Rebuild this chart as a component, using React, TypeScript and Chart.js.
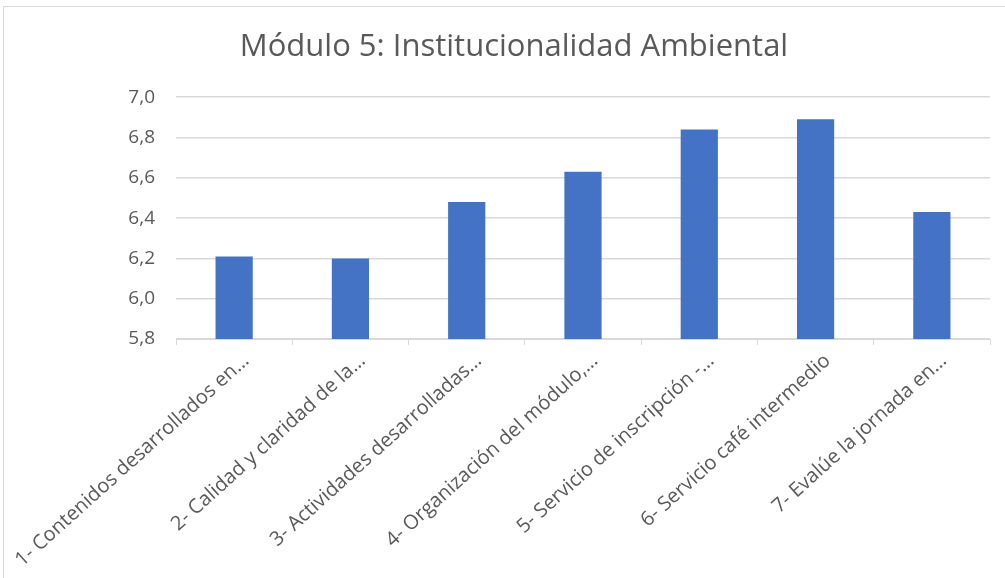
import React, { useEffect, useRef } from "react";
import { Chart, registerables } from "chart.js";

Chart.register(...registerables);

const chartTitle = "Módulo 5: Institucionalidad Ambiental";
const categories = [
  "1- Contenidos desarrollados en…",
  "2- Calidad y claridad de la…",
  "3- Actividades desarrolladas…",
  "4- Organización del módulo,…",
  "5- Servicio de inscripción -…",
  "6- Servicio café intermedio",
  "7- Evalúe la jornada en…",
];
const scores = [6.21, 6.2, 6.48, 6.63, 6.84, 6.89, 6.43];
const yMin = 5.8;
const yMax = 7.0;
const yStep = 0.2;

const FONT = "'Open Sans', 'Noto Sans', sans-serif";
const TEXT = "#595959";
const GRID = "#d9d9d9";

export default function App() {
  const ref = useRef<HTMLCanvasElement | null>(null);

  useEffect(() => {
    document.body.style.margin = "0";
    const ctx = ref.current;
    if (!ctx) return;
    const chart = new Chart(ctx, {
      type: "bar",
      data: {
        labels: categories,
        datasets: [
          {
            data: scores,
            backgroundColor: "#4472C4",
            borderWidth: 0,
            categoryPercentage: 1,
            barPercentage: 0.32,
          },
        ],
      },
      options: {
        animation: false,
        responsive: false,
        maintainAspectRatio: false,
        layout: { padding: { left: 38, right: 15, top: 8, bottom: 0 } },
        plugins: {
          legend: { display: false },
          tooltip: { enabled: false },
          title: {
            display: true,
            text: chartTitle,
            color: TEXT,
            font: { family: FONT, size: 31, weight: "normal" },
            padding: { top: 21, bottom: 31 },
          },
        },
        scales: {
          x: {
            grid: {
              display: true,
              drawOnChartArea: false,
              drawTicks: true,
              tickLength: 6,
              color: GRID,
              offset: true,
            },
            border: { display: true, color: GRID },
            ticks: {
              color: TEXT,
              font: { family: FONT, size: 20 },
              minRotation: 42,
              maxRotation: 42,
              autoSkip: false,
              padding: 4,
              labelOffset: 12,
            },
            afterFit: (s: any) => {
              s.height = 239;
              s.paddingLeft = 0;
              s.paddingRight = 0;
            },
          },
          y: {
            min: yMin,
            max: yMax,
            grid: { color: GRID, lineWidth: 1.5, drawTicks: false },
            border: { display: false },
            ticks: {
              stepSize: yStep,
              color: TEXT,
              font: { family: FONT, size: 19 },
              padding: 21,
              callback: (v: any) => Number(v).toFixed(1).replace(".", ","),
            },
            afterFit: (s: any) => {
              s.width = 138;
              s.paddingTop = 0;
              s.paddingBottom = 0;
            },
          },
        },
      },
    });
    return () => chart.destroy();
  }, []);

  return (
    <div style={{ position: "relative", width: 1005, height: 578, background: "#fff" }}>
      <canvas ref={ref} width={1005} height={578} style={{ position: "absolute", left: 0, top: 0 }} />
      <div
        style={{
          position: "absolute",
          left: 3,
          top: 6,
          width: 1010,
          height: 580,
          border: "1px solid #d9d9d9",
          pointerEvents: "none",
        }}
      />
    </div>
  );
}
